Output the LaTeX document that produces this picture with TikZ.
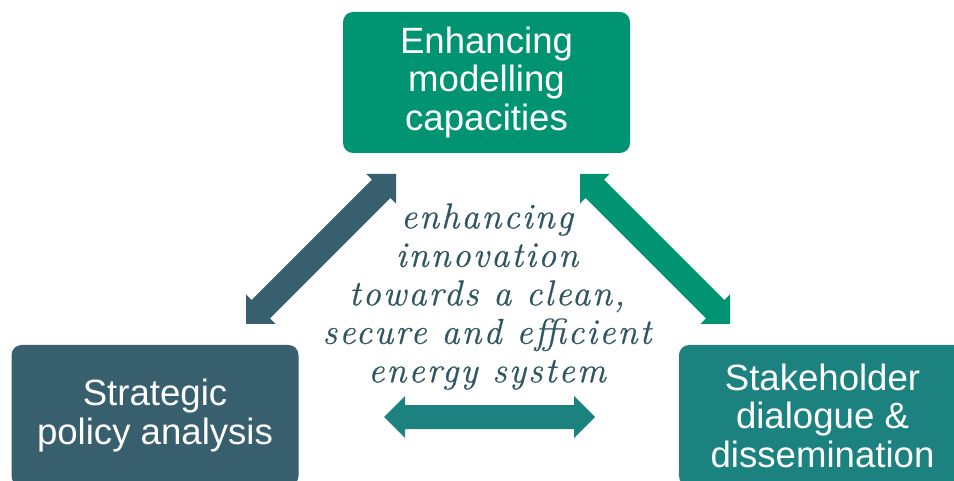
\documentclass[tikz,border=0pt]{standalone}
\usepackage{fontspec}
\setmainfont{Liberation Sans}
\newfontfamily\midfont[LetterSpace=6,FakeBold=0.6]{Latin Modern Roman}
\definecolor{topc}{HTML}{009473}
\definecolor{leftc}{HTML}{375F6E}
\definecolor{rightc}{HTML}{1B8280}
\definecolor{midc}{HTML}{2F5660}
\begin{document}
\begin{tikzpicture}[x=1pt,y=-1pt,
  box/.style={rounded corners=10pt, minimum width=287pt, minimum height=141pt,
    text=white, align=center, inner sep=0pt,
    font=\fontsize{36.6}{38.5}\selectfont}]
\useasboundingbox (0,0) rectangle (954,481);
\clip (0,0) rectangle (954,481);
\node[box, fill=topc] (top) at (486.5,82.5) {Enhancing\\modelling\\capacities};
\node[box, fill=leftc] (left) at (155,415.5) {Strategic\\policy analysis};
\node[box, fill=rightc] (right) at (822.5,415.5) {Stakeholder\\dialogue \&\\dissemination};
\node[text=midc, align=center, inner sep=0pt,
  font=\midfont\itshape\fontsize{36}{38.5}\selectfont] (mid) at (487,296.5)
  {enhancing\\innovation\\towards a clean,\\secure and efficient\\energy system};
% left double arrow
\fill[leftc] (396,174) -- (396,203.7) -- (390.34,198.04) -- (270.04,318.34) -- (275.7,324)
  -- (246,324) -- (246,294.3) -- (251.66,299.96) -- (371.96,179.66) -- (366.3,174) -- cycle;
% right double arrow
\fill[topc] (580,174) -- (580,203.7) -- (585.66,198.04) -- (705.96,318.34) -- (700.3,324)
  -- (730,324) -- (730,294.3) -- (724.34,299.96) -- (604.04,179.66) -- (609.7,174) -- cycle;
% horizontal double arrow
\fill[rightc] (384,417) -- (405,396) -- (405,405) -- (574,405) -- (574,396) -- (595,417)
  -- (574,438) -- (574,429) -- (405,429) -- (405,438) -- cycle;
\end{tikzpicture}
\end{document}
